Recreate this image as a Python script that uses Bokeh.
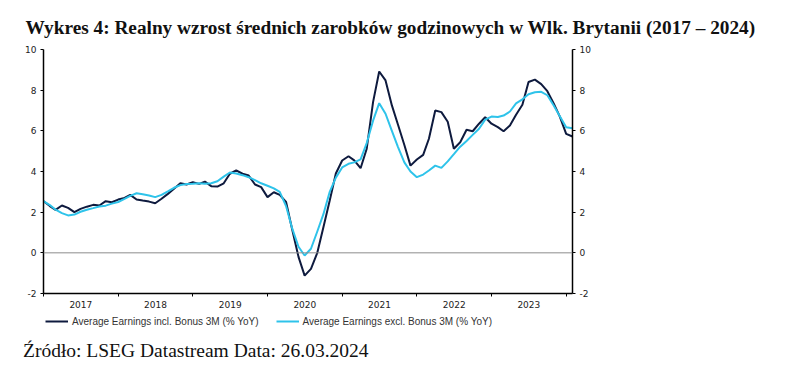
import pandas as pd
from bokeh.plotting import figure
from bokeh.layouts import column
from bokeh.models import (Range1d, LinearAxis, FixedTicker, Span, Legend,
                          LegendItem, Title, Div, ColumnDataSource)
from bokeh.embed import file_html
from bokeh.resources import INLINE

# month-end dates Dec 2016 .. Jan 2024
dates = pd.date_range("2016-12-31", "2024-01-31", freq="ME")

incl_bonus = [
    2.54, 2.30, 2.11, 2.33, 2.21, 2.00, 2.16, 2.27, 2.36, 2.33,
    2.54, 2.49, 2.62, 2.70, 2.85, 2.62, 2.57, 2.52, 2.44, 2.66,
    2.90, 3.15, 3.42, 3.36, 3.47, 3.39, 3.50, 3.28, 3.26, 3.42,
    3.89, 4.05, 3.89, 3.80, 3.36, 3.23, 2.74, 2.98, 2.85, 2.50,
    1.15, -0.20, -1.12, -0.79, 0.00, 1.26, 2.57, 3.90, 4.54, 4.75,
    4.55, 4.16, 5.12, 7.41, 8.92, 8.48, 7.25, 6.30, 5.30, 4.29,
    4.59, 4.82, 5.61, 7.00, 6.92, 6.45, 5.12, 5.44, 6.05, 5.98,
    6.35, 6.67, 6.35, 6.18, 5.98, 6.26, 6.79, 7.28, 8.40, 8.52,
    8.30, 7.95, 7.35, 6.70, 5.85, 5.72,
]
excl_bonus = [
    2.54, 2.35, 2.12, 1.95, 1.84, 1.88, 2.02, 2.12, 2.20, 2.28,
    2.32, 2.42, 2.50, 2.65, 2.80, 2.93, 2.88, 2.82, 2.74, 2.85,
    3.02, 3.20, 3.33, 3.39, 3.40, 3.42, 3.40, 3.42, 3.52, 3.75,
    3.95, 3.90, 3.82, 3.72, 3.58, 3.42, 3.30, 3.17, 3.00, 2.30,
    1.20, 0.30, -0.13, 0.20, 1.05, 1.90, 3.00, 3.70, 4.20, 4.38,
    4.45, 4.60, 5.40, 6.50, 7.36, 6.84, 6.00, 5.20, 4.45, 4.00,
    3.72, 3.85, 4.05, 4.29, 4.18, 4.50, 4.85, 5.22, 5.50, 5.80,
    6.10, 6.55, 6.70, 6.68, 6.75, 6.95, 7.35, 7.55, 7.80, 7.90,
    7.92, 7.75, 7.25, 6.72, 6.18, 6.13,
]
year_labels = ["2017", "2018", "2019", "2020", "2021", "2022", "2023"]
year_starts = [2017, 2018, 2019, 2020, 2021, 2022, 2023, 2024]
y_ticks = [-2, 0, 2, 4, 6, 8, 10]
series_names = ["Average Earnings incl. Bonus 3M (% YoY)",
                "Average Earnings excl. Bonus 3M (% YoY)"]
title_text = "Wykres 4: Realny wzrost średnich zarobków godzinowych w Wlk. Brytanii (2017 – 2024)"
source_text = "Źródło: LSEG Datastream Data: 26.03.2024"


def dec_year(d):
    days = 366 if d.is_leap_year else 365
    return d.year + d.dayofyear / days


xs = [dec_year(d) for d in dates]
src = ColumnDataSource(dict(x=xs, a=incl_bonus, b=excl_bonus))

DARK = "#0e1a3e"
CYAN = "#2ec3ea"
W = 772

p = figure(width=W, height=312,
           x_range=Range1d(xs[0], xs[-1]), y_range=Range1d(-2, 10),
           output_backend="svg", toolbar_location=None,
           min_border_left=43, min_border_right=200,
           min_border_top=49, min_border_bottom=19)
p.outline_line_color = None
p.xgrid.visible = False
p.ygrid.visible = False

p.add_layout(Span(location=0, dimension="width", line_color="#8c8c8c",
                  line_width=1))

r1 = p.line("x", "a", source=src, line_color=DARK, line_width=2)
r2 = p.line("x", "b", source=src, line_color=CYAN, line_width=2)

# x axis
xa = p.xaxis[0]
mids = [int(y) + 0.5 for y in year_labels]
xa.ticker = FixedTicker(ticks=mids, minor_ticks=year_starts)
xa.major_label_overrides = {m: lab for m, lab in zip(mids, year_labels)}
xa.major_tick_out = 0
xa.major_tick_in = 0
xa.minor_tick_out = 3
xa.minor_tick_in = 0
xa.minor_tick_line_color = "black"
xa.axis_line_width = 1.5
xa.major_label_standoff = 4
xa.major_label_text_font = "DejaVu Sans"
xa.major_label_text_font_size = "9px"
xa.major_label_text_color = "#222222"

ya = p.yaxis[0]
ra = LinearAxis()
p.add_layout(ra, "right")
for ax in (ya, ra):
    ax.ticker = FixedTicker(ticks=y_ticks)
    ax.major_label_overrides = {t: str(t) for t in y_ticks}
    ax.minor_tick_out = 0
    ax.minor_tick_in = 0
    ax.major_tick_out = 3
    ax.major_tick_in = 0
    ax.axis_line_width = 1.5
    ax.major_label_standoff = 4
    ax.major_label_text_font = "DejaVu Sans"
    ax.major_label_text_font_size = "9px"
    ax.major_label_text_color = "#222222"

p.title = Title(text=title_text, text_font="Liberation Serif",
                text_font_size="19.3px", text_font_style="bold",
                text_color="#111111", align="left", offset=-18, standoff=23)

# legend strip (its frame is aligned with the chart's frame by the column)
H2 = 27
q = figure(width=W, height=H2, x_range=Range1d(0, 1), y_range=Range1d(0, 1),
           output_backend="svg", toolbar_location=None,
           x_axis_location=None, y_axis_location=None,
           min_border_left=43, min_border_right=200,
           min_border_top=0, min_border_bottom=0)
q.grid.visible = False
q.outline_line_color = None
# same series, drawn off this strip's range: only their legend swatches show
e1 = q.line("x", "a", source=src, line_color=DARK, line_width=2)
e2 = q.line("x", "b", source=src, line_color=CYAN, line_width=2)

legend = Legend(items=[LegendItem(label=series_names[0], renderers=[e1]),
                       LegendItem(label=series_names[1], renderers=[e2])],
                orientation="horizontal", location=(2, 12),
                border_line_alpha=0, background_fill_alpha=0,
                padding=0, margin=0, spacing=17, glyph_width=23,
                glyph_height=12, label_height=12, label_standoff=4,
                label_text_font="Liberation Sans",
                label_text_font_size="10px", label_text_color="#333333")
q.add_layout(legend, "center")

note = Div(text=source_text, width=W, height=30, margin=(0, 0, 0, 0),
           styles={"font-family": "Liberation Serif", "font-size": "19.5px",
                   "line-height": "24px", "color": "#111111",
                   "padding-left": "23px", "white-space": "nowrap"})

open("out.html", "w").write(file_html(column(p, q, note, spacing=0), INLINE))
